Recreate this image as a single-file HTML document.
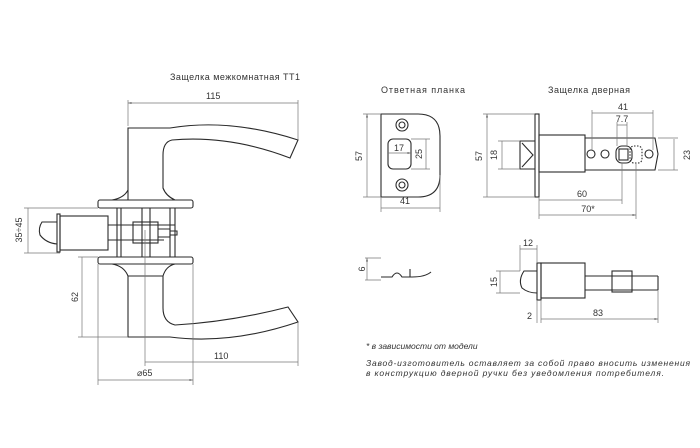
<!DOCTYPE html>
<html><head><meta charset="utf-8"><style>
html,body{margin:0;padding:0;background:#fff;}
svg{display:block;}
text{font-family:"Liberation Sans","DejaVu Sans",sans-serif;fill:#333;}
</style></head><body>
<svg width="700" height="448" viewBox="0 0 700 448" xmlns="http://www.w3.org/2000/svg">
<defs>
<marker id="a" viewBox="0 0 10 10" refX="10" refY="5" markerWidth="5" markerHeight="5" orient="auto-start-reverse"><path d="M0,2 L10,5 L0,8 z" fill="#666"/></marker>
</defs>
<g fill="none" stroke="#2a2a2a" stroke-width="1.1">
<path d="M128,200 L128,128 L170,128 Q230,118 298,140 L290,158 Q230,135 172,140 Q163,142 163,155 L163,188 Q166,196 175,200"/>
<path d="M128,190 Q124,198 112,200"/>
<rect x="98" y="200" width="95" height="8" rx="2"/>
<rect x="98" y="257" width="95" height="7" rx="2"/>
<path d="M117,208V257 M121,208V257 M142,208V257 M150,208V257 M170,208V257 M175,208V257"/>
<rect x="57" y="214" width="3" height="38"/>
<rect x="60" y="216" width="48" height="34"/>
<path d="M57,222 L42,222 Q38,228 40,235 Q46,243 57,244"/>
<path d="M108,225 H175 M108,240 H164"/>
<rect x="133" y="222" width="25" height="21"/>
<path d="M158,229 H170 V237 H158 M170,231 H177 V235 H170"/>
<path d="M112,264 Q124,266 128,276 L128,337 L170,337 Q230,345 298,322 L288,307 Q230,322 175,325 Q163,322 163,308 L163,276 Q166,266 175,264"/>
<path d="M128,276 H163"/>
<path d="M381,114 H418 Q440,114 440,136 V175 Q440,197 418,197 H381 Z"/>
<circle cx="402" cy="125" r="6"/><circle cx="402" cy="125" r="3"/>
<circle cx="402" cy="185" r="6"/><circle cx="402" cy="185" r="3"/>
<rect x="388" y="139" width="23" height="30" rx="5"/>
<rect x="535" y="114" width="4" height="83"/>
<path d="M535,141 H520 V169 H535"/>
<path d="M522,143 L533,155 L522,167"/>
<rect x="539" y="135" width="46" height="37"/>
<path d="M585,138 H655 L658,154 L655,170 H585"/>
<circle cx="591" cy="154" r="4"/><circle cx="605" cy="154" r="4"/><circle cx="649" cy="154" r="4"/>
<rect x="616" y="146" width="16" height="17" rx="6"/>
<rect x="619" y="149" width="9" height="11"/>
<rect x="630" y="146" width="12" height="17" rx="4" stroke-dasharray="1.5 1.5"/>
<path d="M381,277 H392 Q397,269 402,277 H412 Q425,277 431,272 M410,269 V277"/>
<path d="M537,271 H524 Q518,280 522,288 Q528,293 537,293"/>
<rect x="537" y="263" width="4" height="37"/>
<rect x="541" y="263" width="44" height="35"/>
<path d="M585,276 H658 M585,290 H658 M658,276 V290"/>
<rect x="612" y="271" width="20" height="21"/>
</g>
<g fill="none" stroke="#777" stroke-width="0.7">
<path d="M128,126 V100 M298,140 V100 M24,208 H98 M24,253 H60 M78,257 H98 M78,337 H128 M98,264 V385 M193,264 V385 M145,230 V366 M298,322 V366"/>
<path d="M128,103 H298 M28,208 V253 M82,257 V337 M145,362 H298 M98,380 H193" marker-start="url(#a)" marker-end="url(#a)"/>
<path d="M363,114 H381 M363,197 H381 M381,197 V212 M440,175 V212 M411,169 H430 M411,139 H430"/>
<path d="M367,114 V197 M381,208 H440 M426,139 V169 M388,153 H411" marker-start="url(#a)" marker-end="url(#a)"/>
<path d="M483,114 H535 M483,197 H535 M498,141 H520 M498,169 H520 M592,110 V150 M653,110 V150 M617,122 V146 M627,122 V146 M658,138 H678 M658,170 H678 M539,197 V219 M622,163 V204 M636,163 V219"/>
<path d="M487,114 V197 M502,141 V169 M592,113 H653 M617,125 H627 M674,139 V170 M539,200 H622 M539,215 H636" marker-start="url(#a)" marker-end="url(#a)"/>
<path d="M365,258 H381 M365,280 H381 M520,245 V271 M537,245 V263 M496,271 H520 M496,293 H520 M537,300 V323 M541,300 V323 M658,290 V323"/>
<path d="M367,258 V280 M520,249 H537 M500,271 V293 M541,319 H658" marker-start="url(#a)" marker-end="url(#a)"/>
</g>
<g font-size="9">
<text x="170" y="80" font-size="9" textLength="130">Защелка межкомнатная ТТ1</text>
<text x="206" y="99">115</text>
<text x="22" y="230" transform="rotate(-90 22 230)" text-anchor="middle">35÷45</text>
<text x="78" y="297" transform="rotate(-90 78 297)" text-anchor="middle">62</text>
<text x="214" y="359">110</text>
<text x="137" y="376">⌀65</text>
<text x="381" y="93" font-size="9" textLength="84">Ответная планка</text>
<text x="548" y="93" font-size="9" textLength="82">Защелка дверная</text>
<text x="362" y="156" transform="rotate(-90 362 156)" text-anchor="middle">57</text>
<text x="405" y="204" text-anchor="middle">41</text>
<text x="394" y="151">17</text>
<text x="422" y="154" transform="rotate(-90 422 154)" text-anchor="middle">25</text>
<text x="482" y="156" transform="rotate(-90 482 156)" text-anchor="middle">57</text>
<text x="497" y="155" transform="rotate(-90 497 155)" text-anchor="middle">18</text>
<text x="623" y="110" text-anchor="middle">41</text>
<text x="622" y="122" text-anchor="middle">7.7</text>
<text x="690" y="155" transform="rotate(-90 690 155)" text-anchor="middle">23</text>
<text x="582" y="197" text-anchor="middle">60</text>
<text x="588" y="212" text-anchor="middle">70*</text>
<text x="365" y="269" transform="rotate(-90 365 269)" text-anchor="middle">6</text>
<text x="528" y="246" text-anchor="middle">12</text>
<text x="497" y="282" transform="rotate(-90 497 282)" text-anchor="middle">15</text>
<text x="527" y="319">2</text>
<text x="598" y="316" text-anchor="middle">83</text>
<text x="366" y="349" font-size="8.5" font-style="italic">* в зависимости от модели</text>
<text x="366" y="366" font-size="8.5" font-style="italic" textLength="324">Завод-изготовитель оставляет за собой право вносить изменения</text>
<text x="366" y="376" font-size="8.5" font-style="italic" textLength="298">в конструкцию дверной ручки без уведомления потребителя.</text>
</g>
</svg>
</body></html>
